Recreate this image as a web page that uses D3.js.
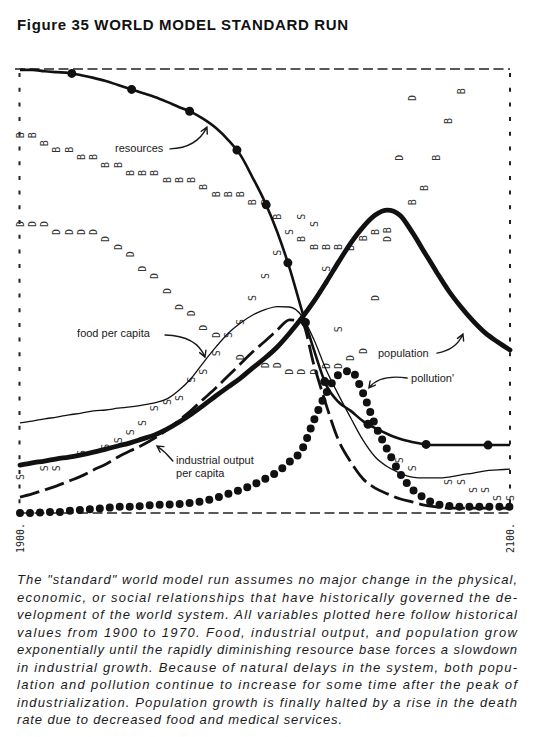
<!DOCTYPE html>
<html>
<head>
<meta charset="utf-8">
<script src="https://cdn.jsdelivr.net/npm/d3@7"></script>
<style>
  body { margin: 0; background: #fff; }
  svg { display: block; background: #fff; }
  .curve { fill: none; stroke: #111; }
  .label { font-family: "Liberation Sans", Arial, sans-serif; font-size: 11px; fill: #1a1a1a; }
  .arrow { fill: none; stroke: #1a1a1a; stroke-width: 1.4; stroke-linecap: round; }
  .letter { font-family: "DejaVu Sans Mono", monospace; font-size: 10px; fill: #333; }
  .caption { font-family: "Liberation Sans", Arial, sans-serif; font-style: italic; font-size: 13px; fill: #1a1a1a; }
</style>
</head>
<body>
<svg width="538" height="737"></svg>
<script>
// time steps of the run (5 years)
const years = [1900, 1905, 1910, 1915, 1920, 1925, 1930, 1935, 1940, 1945,
               1950, 1955, 1960, 1965, 1970, 1975, 1980, 1985, 1990, 1995,
               2000, 2005, 2010, 2015, 2020, 2025, 2030, 2035, 2040, 2045,
               2050, 2055, 2060, 2065, 2070, 2075, 2080, 2085, 2090, 2095, 2100];

// every variable is read as percent of the plot height (each has its own scale in the original)
const resources = [99.8, 99.8, 99.5, 99.3, 99.1, 98.6, 98.0, 97.3, 96.4, 95.5,
                   94.6, 93.7, 92.6, 91.4, 90.3, 88.7, 86.7, 84.0, 80.6, 75.5,
                   70.0, 63.3, 55.2, 45.7, 36.7, 28.8, 25.0, 23.0, 20.7, 19.1,
                   17.8, 16.7, 16.0, 15.5, 15.3, 15.3, 15.3, 15.3, 15.3, 15.3, 15.3];

const population = [10.8, 11.3, 11.7, 12.2, 12.6, 13.1, 13.7, 14.4, 15.1, 15.8,
                    16.7, 17.6, 18.9, 20.5, 22.3, 24.3, 26.4, 28.4, 30.4, 32.7,
                    34.9, 37.4, 40.5, 43.9, 47.7, 52.0, 56.5, 60.8, 64.4, 67.1,
                    68.2, 67.1, 63.3, 58.8, 54.3, 50.0, 46.4, 43.2, 40.5, 38.5, 36.7];

const foodPerCapita = [20.3, 20.7, 21.2, 21.6, 22.1, 22.5, 23.0, 23.2, 23.6, 23.9,
                       24.3, 24.8, 25.7, 27.7, 30.4, 34.0, 37.4, 40.5, 42.8, 44.6,
                       45.8, 46.5, 46.4, 44.4, 39.0, 32.2, 26.6, 21.4, 16.4, 12.6,
                       10.4, 9.0, 8.1, 7.9, 7.9, 8.1, 8.6, 9.0, 9.5, 9.7, 9.9];

const industrialOutput = [3.6, 4.3, 5.2, 6.1, 7.2, 8.3, 9.7, 11.0, 12.6, 14.0,
                          15.3, 16.9, 18.7, 20.9, 23.2, 25.7, 28.2, 30.9, 33.6, 36.3,
                          38.7, 41.2, 43.5, 43.0, 33.3, 24.3, 16.4, 11.5, 7.7, 5.6,
                          4.3, 3.2, 2.5, 1.8, 1.4, 1.1, 1.1, 1.1, 1.1, 1.1, 1.1];

const pollution = [0.0, 0.0, 0.2, 0.2, 0.5, 0.7, 0.9, 1.1, 1.4, 1.4,
                   1.6, 1.8, 1.9, 2.0, 2.3, 2.7, 3.4, 4.3, 5.2, 6.3,
                   7.7, 9.2, 11.5, 14.2, 20.9, 27.0, 31.1, 32.0, 27.0, 19.8,
                   14.2, 9.0, 5.4, 3.4, 2.0, 1.6, 1.4, 1.4, 1.4, 1.4, 1.4];

// printed letters: B = birth rate, D = death rate, S = services per capita  [year, value]
const birthRate = [[1900, 85.1], [1905, 85.1], [1910, 83.3], [1915, 81.8], [1920, 81.8],
                   [1925, 80.2], [1930, 80.2], [1935, 78.4], [1940, 78.4], [1945, 76.6],
                   [1950, 76.6], [1955, 76.6], [1960, 75.0], [1965, 75.0], [1970, 75.0],
                   [1975, 73.4], [1980, 71.8], [1985, 71.8], [1990, 71.8], [1995, 70.0],
                   [2000, 70.0], [2005, 66.7], [2015, 61.7], [2020, 59.9], [2025, 59.9],
                   [2030, 59.9], [2035, 59.7], [2040, 61.9], [2045, 63.3], [2050, 63.7],
                   [2060, 70.0], [2065, 73.2], [2070, 80.0], [2075, 88.3], [2080, 95.0]];

const deathRate = [[1900, 65.1], [1905, 65.1], [1910, 65.1], [1915, 63.3], [1920, 63.3],
                   [1925, 63.3], [1930, 63.3], [1935, 61.7], [1940, 59.9], [1945, 58.3],
                   [1950, 55.0], [1955, 53.4], [1960, 50.0], [1965, 46.4], [1970, 45.0],
                   [1975, 41.7], [1980, 40.1], [1990, 35.1], [2000, 33.3], [2005, 33.3],
                   [2010, 31.8], [2015, 31.8], [2020, 31.8], [2025, 33.1], [2030, 33.1],
                   [2035, 34.9], [2040, 36.5], [2045, 48.4], [2050, 61.7], [2055, 80.0],
                   [2060, 93.5]];

const services = [[1900, 8.1], [1910, 10.1], [1915, 10.1], [1925, 13.5], [1935, 14.9],
                  [1940, 16.4], [1945, 18.2], [1950, 20.3], [1955, 23.6], [1960, 25.0],
                  [1965, 25.9], [1970, 30.0], [1975, 31.8], [1980, 36.0], [1985, 40.1],
                  [1990, 43.0], [1995, 48.4], [2000, 53.4], [2005, 58.6], [2010, 63.3],
                  [2015, 66.7], [2020, 65.1], [2025, 55.0], [2030, 41.4], [2055, 11.9],
                  [2060, 10.1], [2075, 7.0], [2080, 7.0], [2085, 5.2], [2090, 5.2],
                  [2095, 3.4], [2100, 3.4]];

const tickYears = [1900, 2100];

const title = "Figure 35 WORLD MODEL STANDARD RUN";

const captionLines = [
  "The \"standard\" world model run assumes no major change in the physical,",
  "economic, or social relationships that have historically governed the de-",
  "velopment of the world system. All variables plotted here follow historical",
  "values from 1900 to 1970. Food, industrial output, and population grow",
  "exponentially until the rapidly diminishing resource base forces a slowdown",
  "in industrial growth. Because of natural delays in the system, both popu-",
  "lation and pollution continue to increase for some time after the peak of",
  "industrialization. Population growth is finally halted by a rise in the death",
  "rate due to decreased food and medical services."
];

// curve labels, placed in data units [year, value]
const notes = [
  {text: ["resources"],                       at: [1938.8, 81.3], from: [1961.2, 82.0], via: [1972.2, 82.2], to: [1976.3, 86.9]},
  {text: ["food per capita"],                 at: [1923.3, 39.6], from: [1959.2, 40.1], via: [1972.2, 39.9], to: [1975.5, 35.1]},
  {text: ["population"],                      at: [2046.1, 35.1], from: [2070.2, 36.0], via: [2078.0, 36.7], to: [2080.8, 40.3]},
  {text: ["pollution'"],                      at: [2059.6, 29.5], from: [2058.0, 30.4], via: [2046.9, 31.3], to: [2042.4, 28.2]},
  {text: ["industrial output", "per capita"], at: [1963.7, 11.0], from: [1962.4, 11.7], via: [1959.6, 13.7], to: [1955.9, 15.1]}
];

const svg = d3.select("svg");

const x = d3.scaleLinear().domain([1900, 2100]).range([20, 510]);
const y = d3.scaleLinear().domain([0, 100]).range([513, 69]);

// title
svg.append("text")
  .attr("x", 17)
  .attr("y", 30)
  .attr("textLength", 331)
  .style("font-family", "'Liberation Sans', Arial, sans-serif")
  .style("font-weight", "bold")
  .style("font-size", "15px")
  .style("fill", "#111")
  .text(title);

// dashed frame of the printout
const frame = svg.append("g").attr("stroke", "#222");
frame.append("line")
  .attr("x1", x.range()[0] - 5).attr("x2", x.range()[1])
  .attr("y1", y(100)).attr("y2", y(100))
  .attr("stroke-width", 1.6).attr("stroke-dasharray", "10 4.5");
frame.append("line")
  .attr("x1", x.range()[0]).attr("x2", x.range()[1])
  .attr("y1", y(0)).attr("y2", y(0))
  .attr("stroke-width", 1.4).attr("stroke-dasharray", "10 4.5");
[x.range()[0] - 0.5, x.range()[1]].forEach(function(px) {
  frame.append("line")
    .attr("x1", px).attr("x2", px)
    .attr("y1", y(100) + 4).attr("y2", y(0))
    .attr("stroke-width", 2).attr("stroke-dasharray", "4 10.7");
});

// year labels under the frame, rotated like the printer output
const axis = d3.axisBottom(x)
  .tickValues(tickYears)
  .tickFormat(d => d + ".")
  .tickSize(0);

const ag = svg.append("g")
  .attr("transform", "translate(0," + (y(0) + 6) + ")")
  .call(axis);
ag.select(".domain").remove();
ag.selectAll("text")
  .attr("transform", "rotate(-90)")
  .attr("x", -4)
  .attr("y", 0)
  .attr("dy", "0.35em")
  .attr("text-anchor", "end")
  .style("font-family", "'DejaVu Sans Mono', monospace")
  .style("font-size", "10px")
  .style("fill", "#222");

// printed letters
function drawLetters(data, letter) {
  svg.append("g").selectAll("text")
    .data(data)
    .join("text")
    .attr("class", "letter")
    .attr("text-anchor", "middle")
    .attr("dy", "0.35em")
    .attr("transform", d => "translate(" + x(d[0]) + "," + y(d[1]) + ") rotate(-90)")
    .text(letter);
}
drawLetters(birthRate, "B");
drawLetters(deathRate, "D");
drawLetters(services, "S");

// curves
const line = d3.line()
  .x(d => x(d[0]))
  .y(d => y(d[1]))
  .curve(d3.curveMonotoneX);

function series(values) {
  return years.map((yr, i) => [yr, values[i]]);
}

const curves = svg.append("g");

curves.append("path")
  .datum(series(foodPerCapita))
  .attr("class", "curve")
  .attr("stroke-width", 1.3)
  .attr("d", line);

curves.append("path")
  .datum(series(industrialOutput))
  .attr("class", "curve")
  .attr("stroke-width", 2.8)
  .attr("stroke-dasharray", "20 6")
  .attr("d", line);

// pollution drawn as a row of heavy dots
curves.append("path")
  .datum(series(pollution))
  .attr("class", "curve")
  .attr("stroke-width", 8)
  .attr("stroke-linecap", "round")
  .attr("stroke-dasharray", "0 10")
  .attr("d", line);

curves.append("path")
  .datum(series(resources))
  .attr("class", "curve")
  .attr("stroke-width", 2.6)
  .attr("d", line);

// big dots every so often along resources
curves.append("path")
  .datum(series(resources))
  .attr("class", "curve")
  .attr("stroke-width", 9)
  .attr("stroke-linecap", "round")
  .attr("stroke-dasharray", "0 62")
  .attr("stroke-dashoffset", 10)
  .attr("d", line);

curves.append("path")
  .datum(series(population))
  .attr("class", "curve")
  .attr("stroke-width", 4.8)
  .attr("stroke-linecap", "round")
  .attr("d", line);

// labels with curved arrows
const ann = svg.append("g");
notes.forEach(function(n) {
  const t = ann.append("text")
    .attr("class", "label")
    .attr("x", x(n.at[0]))
    .attr("y", y(n.at[1]));
  n.text.forEach(function(s, i) {
    t.append("tspan")
      .attr("x", x(n.at[0]))
      .attr("dy", i === 0 ? 0 : 13)
      .text(s);
  });

  const p0 = [x(n.from[0]), y(n.from[1])];
  const p1 = [x(n.via[0]), y(n.via[1])];
  const p2 = [x(n.to[0]), y(n.to[1])];

  const p = d3.path();
  p.moveTo(p0[0], p0[1]);
  p.quadraticCurveTo(p1[0], p1[1], p2[0], p2[1]);

  // open arrowhead along the end tangent
  const a = Math.atan2(p2[1] - p1[1], p2[0] - p1[0]);
  const len = 7, spread = 0.5;
  p.moveTo(p2[0] - len * Math.cos(a - spread), p2[1] - len * Math.sin(a - spread));
  p.lineTo(p2[0], p2[1]);
  p.lineTo(p2[0] - len * Math.cos(a + spread), p2[1] - len * Math.sin(a + spread));

  ann.append("path")
    .attr("class", "arrow")
    .attr("d", p.toString());
});

// caption
const cap = svg.append("g");
captionLines.forEach(function(s, i) {
  const t = cap.append("text")
    .attr("class", "caption")
    .attr("x", 17)
    .attr("y", 584 + i * 17.5)
    .text(s);
  t.attr("textLength", i < captionLines.length - 1 ? 500 : 325);
});
</script>
</body>
</html>
